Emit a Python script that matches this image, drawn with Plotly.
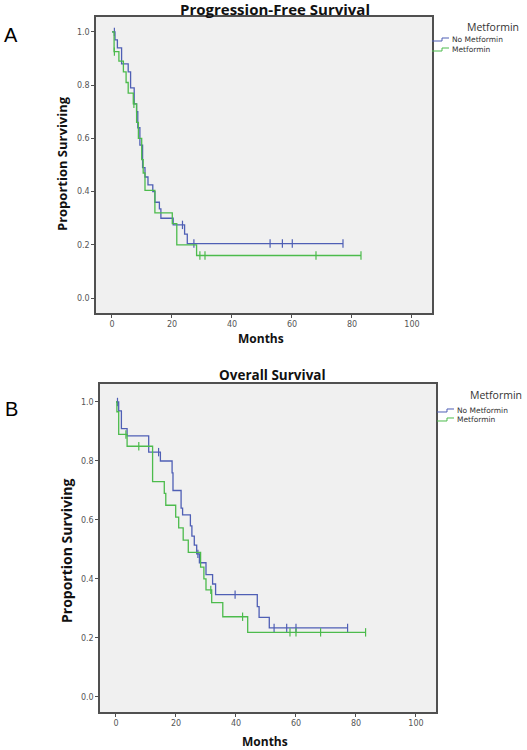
import plotly.graph_objects as go

W, H = 527, 750

# ---------------- DATA ----------------
# Progression-free survival
pfs_nomet_t = [0, 1.0, 1.8, 3.2, 5.4, 6.2, 7.4, 8.2, 8.6, 9.3, 10.2, 11.0, 12.0, 13.6, 14.3, 15.8, 16.3, 20.4, 24.2, 25.1]
pfs_nomet_s = [1.0, 0.97, 0.94, 0.88, 0.85, 0.79, 0.73, 0.70, 0.64, 0.575, 0.49, 0.455, 0.425, 0.40, 0.36, 0.335, 0.30, 0.275, 0.24, 0.205]
pfs_nomet_cens = [0.8, 23.5, 27.3, 52.7, 56.8, 60.1, 77.0]

pfs_met_t = [0, 0.7, 2.3, 3.8, 4.7, 5.4, 7.1, 8.2, 8.8, 9.9, 10.4, 11.0, 14.3, 20.1, 21.6, 28.2]
pfs_met_s = [1.0, 0.926, 0.89, 0.85, 0.81, 0.77, 0.73, 0.66, 0.60, 0.52, 0.47, 0.405, 0.32, 0.28, 0.20, 0.16]
pfs_met_cens = [0.8, 7.3, 29.3, 31.0, 68.0, 83.0]

# Overall survival
os_nomet_t = [0, 0.9, 1.8, 3.7, 10.9, 14.8, 18.7, 19.0, 21.7, 22.2, 24.8, 25.3, 26.1, 26.9, 27.8, 30.0, 32.2, 33.2, 47.1, 47.7, 51.1]
os_nomet_s = [1.0, 0.97, 0.91, 0.885, 0.83, 0.80, 0.76, 0.70, 0.64, 0.617, 0.58, 0.545, 0.515, 0.485, 0.455, 0.415, 0.383, 0.347, 0.306, 0.27, 0.234]
os_nomet_cens = [0.5, 14.2, 27.3, 39.7, 52.7, 56.9, 60.0, 77.2]

os_met_t = [0, 0.3, 0.9, 3.7, 12.2, 16.1, 16.6, 19.9, 20.9, 22.4, 24.1, 28.2, 29.3, 30.0, 31.9, 35.6, 43.9]
os_met_s = [1.0, 0.967, 0.89, 0.85, 0.73, 0.69, 0.65, 0.61, 0.573, 0.532, 0.49, 0.44, 0.40, 0.363, 0.32, 0.272, 0.219]
os_met_cens = [3.3, 7.6, 31.6, 42.2, 58.0, 60.0, 68.2, 83.2]

group_names = ["No Metformin", "Metformin"]
x_ticks = [0, 20, 40, 60, 80, 100]
y_ticks = [0.0, 0.2, 0.4, 0.6, 0.8, 1.0]
titles = ["Progression-Free Survival", "Overall Survival"]

BLUE = "#4f5fb5"
GREEN = "#4cbb4c"
colors = [BLUE, GREEN]


def X(px):
    return px / W


def Y(py):
    return 1 - py / H


def surv_at(times, surv, t):
    s = surv[0]
    for ti, si in zip(times, surv):
        if ti <= t:
            s = si
    return s


fig = go.Figure()

panels = [
    dict(series=[(pfs_nomet_t, pfs_nomet_s, pfs_nomet_cens), (pfs_met_t, pfs_met_s, pfs_met_cens)],
         xa="x", ya="y"),
    dict(series=[(os_nomet_t, os_nomet_s, os_nomet_cens), (os_met_t, os_met_s, os_met_cens)],
         xa="x2", ya="y2"),
]

for p in panels:
    for (t, s, c), col, name in zip(p["series"], colors, group_names):
        end = max(c[-1], t[-1])
        fig.add_trace(go.Scatter(
            x=t + [end], y=s + [s[-1]], mode="lines", line=dict(color=col, width=1.3, shape="hv"),
            name=name, showlegend=False, xaxis=p["xa"], yaxis=p["ya"], hoverinfo="skip"))
        fig.add_trace(go.Scatter(
            x=c, y=[surv_at(t, s, ci) for ci in c], mode="markers",
            marker=dict(symbol="line-ns-open", size=6, color=col, line=dict(color=col, width=1.2)),
            showlegend=False, xaxis=p["xa"], yaxis=p["ya"], hoverinfo="skip"))

axis_common = dict(showline=True, mirror=True, linecolor="#505050", linewidth=1.5,
                   showgrid=False, zeroline=False, ticks="outside", ticklen=3,
                   tickcolor="#505050", tickfont=dict(family="DejaVu Sans", size=8, color="#555555"))

# plot area geometry in pixels
geo = [dict(l=96, r=432, t=17, b=313), dict(l=100, r=436, t=384, b=712)]

layout = dict(
    width=W, height=H, margin=dict(l=0, r=0, t=0, b=0),
    paper_bgcolor="white", plot_bgcolor="#f0f0f0", showlegend=False,
)
for i, g in enumerate(geo):
    sfx = "" if i == 0 else "2"
    layout["xaxis" + sfx] = dict(axis_common, domain=[X(g["l"]), X(g["r"])], range=[-5.33, 106.67],
                                 tickvals=x_ticks, anchor="y" + sfx)
    yr = [-0.056, 1.056] if i == 0 else [-0.051, 1.061]
    layout["yaxis" + sfx] = dict(axis_common, domain=[Y(g["b"]), Y(g["t"])], range=yr,
                                 tickvals=y_ticks, tickformat=".1f", anchor="x" + sfx)
fig.update_layout(**layout)

ann = []
shapes = []
BOLD = "Open Sans"
# panel letters
ann.append(dict(text="A", x=X(11), y=Y(35), font=dict(family="Liberation Sans", size=20, color="black")))
ann.append(dict(text="B", x=X(11), y=Y(409), font=dict(family="Liberation Sans", size=20, color="black")))
# titles
ann.append(dict(text="<b>%s</b>" % titles[0], x=X(275), y=Y(9), font=dict(family=BOLD, size=15, color="#111")))
ann.append(dict(text="<b>%s</b>" % titles[1], x=X(272), y=Y(375), font=dict(family=BOLD, size=13.5, color="#111")))
# axis titles
ann.append(dict(text="<b>Months</b>", x=X(261), y=Y(338), font=dict(family=BOLD, size=12, color="#111")))
ann.append(dict(text="<b>Months</b>", x=X(265), y=Y(741), font=dict(family=BOLD, size=12, color="#111")))
ann.append(dict(text="<b>Proportion Surviving</b>", x=X(62), y=Y(164), textangle=-90,
                font=dict(family=BOLD, size=13, color="#111")))
ann.append(dict(text="<b>Proportion Surviving</b>", x=X(66), y=Y(551), textangle=-90,
                font=dict(family=BOLD, size=14, color="#111")))

# legends (title + step-shaped glyphs)
legs = [dict(tx=493, ty=27, x0=432, rows=[41, 51], xt=450),
        dict(tx=496, ty=395, x0=437, rows=[412, 421], xt=455)]
for L in legs:
    ann.append(dict(text="Metformin", x=X(L["tx"]), y=Y(L["ty"]),
                    font=dict(family="Open Sans", size=10.5, color="#333")))
    for row, col, name in zip(L["rows"], colors, group_names):
        x0 = L["x0"]
        path = "M %f %f L %f %f L %f %f L %f %f" % (
            X(x0), Y(row), X(x0 + 10), Y(row), X(x0 + 10), Y(row - 3), X(L["xt"] - 1), Y(row - 3))
        shapes.append(dict(type="path", xref="paper", yref="paper", path=path,
                           line=dict(color=col, width=1)))
        ann.append(dict(text=name, x=X(L["xt"]), y=Y(row - 1.5), xanchor="left",
                        font=dict(family="DejaVu Sans", size=7.5, color="#333")))

for a in ann:
    a.setdefault("xref", "paper")
    a.setdefault("yref", "paper")
    a.setdefault("showarrow", False)
    a.setdefault("xanchor", "center")
    a.setdefault("yanchor", "middle")

fig.update_layout(annotations=ann, shapes=shapes)
fig.write_html("out.html", config={"displayModeBar": False},
               post_script="document.body.style.margin='0';document.body.style.overflow='hidden';")
